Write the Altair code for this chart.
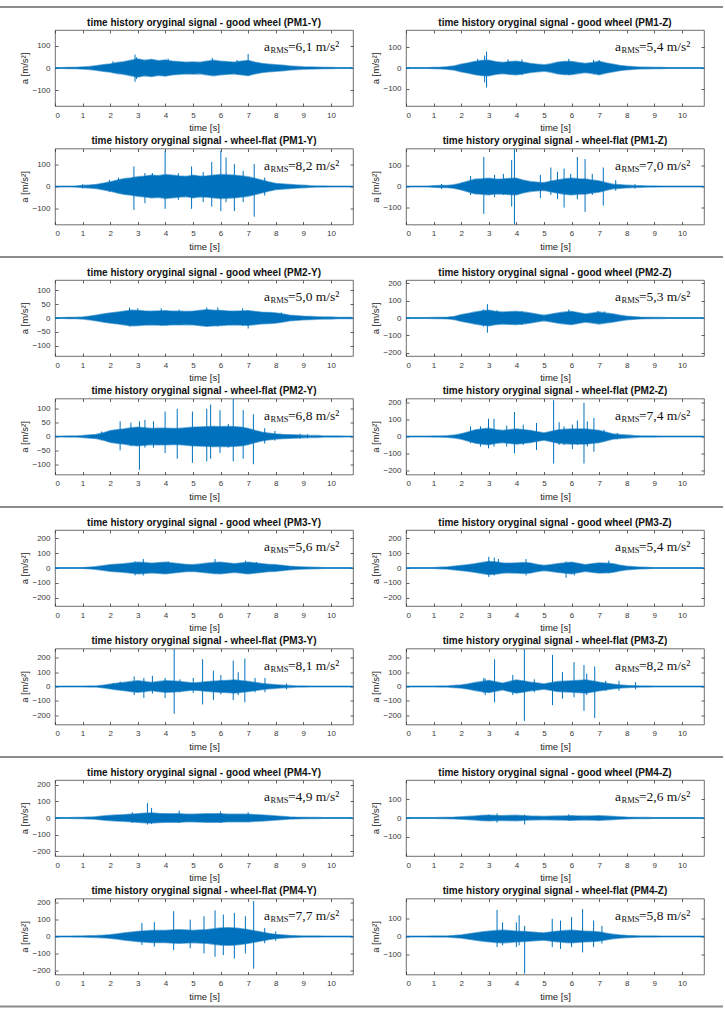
import altair as alt
import pandas as pd

BLUE = "#0072BD"
W, H = 298, 76

# time grid of the envelope readings [s] (every 0.25 s)
T = [0, 0.25, 0.5, 0.75, 1, 1.25, 1.5, 1.75, 2, 2.25, 2.5, 2.75, 3, 3.25, 3.5, 3.75,
     4, 4.25, 4.5, 4.75, 5, 5.25, 5.5, 5.75, 6, 6.25, 6.5, 6.75, 7, 7.25, 7.5, 7.75,
     8, 8.25, 8.5, 8.75, 9, 9.25, 9.5, 9.75, 10, 10.25, 10.5, 10.75]
XTICKS = [0, 1, 2, 3, 4, 5, 6, 7, 8, 9, 10]

# ---- envelopes of the dense part of each signal [m/s^2] (4 readings per second) ----
ENV_PM1Y_GOOD = [1, 1, 2, 2, 4, 6, 10, 14, 18, 24, 28, 34, 40, 34, 38, 32, 36, 30, 28, 26, 27, 25,
                 30, 34, 30, 28, 26, 30, 33, 26, 20, 17, 14, 12, 9, 7, 5, 4, 3, 2, 2, 1, 1, 1]
ENV_PM1Z_GOOD = [1, 1, 1, 1, 2, 3, 6, 10, 18, 24, 32, 36, 38, 30, 27, 30, 33, 28, 22, 18, 15, 20,
                 28, 32, 32, 26, 22, 26, 32, 24, 18, 12, 8, 6, 4, 3, 2, 2, 1, 1, 1, 1, 1, 1]
ENV_PM1Y_FLAT = [1, 1, 1, 2, 4, 6, 9, 14, 20, 28, 35, 38, 43, 46, 50, 48, 53, 50, 47, 45, 50, 46,
                 47, 50, 53, 52, 50, 47, 43, 36, 28, 20, 13, 11, 9, 7, 5, 3, 2, 2, 1, 1, 1, 1]
ENV_PM1Z_FLAT = [1, 1, 1, 1, 3, 5, 5, 8, 15, 25, 34, 36, 39, 34, 35, 38, 39, 30, 23, 20, 18, 25,
                 31, 36, 39, 36, 35, 30, 26, 18, 10, 8, 6, 4, 3, 2, 2, 1, 1, 1, 1, 1, 1, 1]
ENV_PM2Y_GOOD = [1, 1, 2, 2, 3, 6, 10, 14, 18, 21, 24, 28, 27, 25, 24, 25, 26, 24, 24, 23, 24, 27,
                 30, 28, 27, 25, 24, 25, 26, 23, 21, 20, 18, 14, 10, 8, 6, 5, 4, 3, 3, 2, 2, 2]
ENV_PM2Z_GOOD = [1, 1, 1, 1, 2, 3, 4, 9, 19, 26, 34, 40, 45, 38, 34, 36, 38, 34, 29, 22, 15, 22,
                 29, 34, 38, 30, 23, 28, 34, 28, 23, 16, 10, 7, 4, 3, 2, 2, 1, 1, 1, 1, 1, 1]
ENV_PM2Y_FLAT = [1, 1, 2, 2, 3, 5, 7, 13, 21, 24, 27, 31, 33, 31, 29, 30, 30, 29, 29, 31, 33, 34,
                 35, 36, 35, 36, 35, 33, 29, 22, 15, 12, 9, 7, 6, 5, 4, 3, 3, 2, 2, 2, 1, 1]
ENV_PM2Z_FLAT = [1, 1, 1, 1, 2, 3, 4, 8, 15, 26, 38, 44, 48, 40, 35, 40, 44, 40, 35, 28, 21, 30,
                 38, 42, 44, 44, 44, 40, 35, 25, 15, 11, 8, 5, 3, 2, 2, 1, 1, 1, 1, 1, 1, 1]
ENV_PM3Y_GOOD = [1, 1, 1, 1, 2, 5, 9, 15, 21, 25, 28, 33, 39, 36, 32, 35, 39, 33, 28, 24, 21, 26,
                 32, 36, 39, 33, 28, 33, 39, 33, 28, 24, 21, 16, 11, 8, 6, 4, 3, 2, 2, 1, 1, 1]
ENV_PM3Z_GOOD = [1, 1, 1, 1, 2, 4, 7, 11, 16, 22, 28, 36, 44, 40, 34, 32, 34, 36, 34, 24, 16, 22,
                 28, 34, 39, 30, 21, 28, 34, 32, 28, 18, 11, 8, 5, 3, 2, 2, 1, 1, 1, 1, 1, 1]
ENV_PM3Y_FLAT = [1, 1, 1, 1, 2, 3, 4, 9, 16, 22, 28, 34, 40, 34, 28, 34, 40, 38, 35, 30, 24, 28,
                 33, 37, 40, 42, 45, 40, 35, 28, 21, 16, 12, 9, 6, 4, 3, 2, 2, 1, 1, 1, 1, 1]
ENV_PM3Z_FLAT = [1, 1, 1, 1, 2, 3, 4, 7, 11, 18, 27, 34, 41, 32, 23, 34, 45, 38, 30, 24, 18, 26,
                 34, 37, 39, 42, 45, 38, 30, 23, 16, 11, 7, 5, 4, 3, 2, 2, 1, 1, 1, 1, 1, 1]
ENV_PM4Y_GOOD = [1, 1, 1, 2, 3, 5, 8, 12, 15, 18, 20, 23, 25, 28, 30, 27, 25, 26, 25, 23, 22, 24,
                 25, 26, 25, 23, 22, 23, 22, 20, 18, 15, 12, 9, 6, 4, 3, 2, 2, 1, 1, 1, 1, 1]
ENV_PM4Z_GOOD = [1, 1, 1, 1, 1, 2, 3, 4, 6, 8, 10, 13, 15, 13, 12, 13, 14, 12, 10, 9, 8, 9,
                 10, 11, 12, 11, 10, 11, 12, 10, 8, 6, 4, 3, 2, 2, 1, 1, 1, 1, 1, 1, 1, 1]
ENV_PM4Y_FLAT = [1, 1, 1, 2, 3, 4, 5, 7, 10, 15, 20, 25, 30, 33, 35, 35, 35, 38, 40, 38, 35, 38,
                 40, 45, 50, 52, 50, 46, 40, 32, 25, 18, 12, 9, 6, 4, 3, 2, 2, 1, 1, 1, 1, 1]
ENV_PM4Z_FLAT = [1, 1, 1, 1, 2, 2, 3, 5, 8, 14, 20, 25, 30, 33, 35, 33, 30, 28, 25, 22, 20, 25,
                 30, 33, 35, 32, 30, 28, 25, 18, 12, 8, 5, 4, 3, 2, 2, 1, 1, 1, 1, 1, 1, 1]

# ---- isolated peaks: (time [s], max, min) ----
SPK_PM1Y_GOOD = [(2.1, 30, -22), (2.9, 60, -62), (2.95, 48, -50), (3.5, 38, -36), (4.1, 42, -30),
                 (5.7, 45, -30), (6.6, 36, -30), (7.0, 63, -35)]
SPK_PM1Z_GOOD = [(2.6, 45, -35), (2.85, 60, -70), (2.92, 80, -95), (3.7, 42, -30), (4.2, 42, -35),
                 (5.9, 45, -35), (6.8, 40, -30), (7.0, 38, -32)]
SPK_PM1Y_FLAT = [(1.0, 10, -8), (1.97, 30, -25), (2.3, 40, -30), (2.86, 90, -105), (3.26, 60, -75),
                 (3.53, 60, -45), (3.99, 160, -100), (4.47, 60, -60), (4.95, 90, -100), (5.37, 65, -70),
                 (5.68, 110, -90), (6.01, 160, -110), (6.2, 130, -70), (6.5, 100, -110), (6.82, 70, -70),
                 (7.22, 100, -135), (7.6, 40, -40), (9.1, 6, -5)]
SPK_PM1Z_FLAT = [(1.29, 12, -12), (2.03, 20, -15), (2.34, 50, -40), (2.82, 140, -130), (3.21, 55, -50),
                 (3.53, 60, -40), (3.83, 125, -95), (3.93, 180, -180), (4.87, 55, -55), (5.25, 90, -40),
                 (5.49, 70, -60), (5.73, 85, -100), (5.97, 60, -40), (6.21, 140, -60), (6.49, 130, -120),
                 (6.75, 60, -40), (7.15, 90, -90), (7.6, 30, -20), (8.3, 12, -10)]
SPK_PM2Y_GOOD = [(2.7, 38, -30), (3.0, 35, -25), (3.85, 35, -28), (4.5, 30, -25), (5.5, 38, -28),
                 (5.9, 38, -30), (6.8, 35, -28), (7.0, 28, -38), (8.2, 20, -15)]
SPK_PM2Z_GOOD = [(2.8, 50, -50), (2.95, 80, -85), (3.3, 45, -35), (4.2, 40, -40), (5.9, 50, -35),
                 (6.95, 40, -30), (7.2, 38, -28)]
SPK_PM2Y_FLAT = [(1.69, 18, -12), (2.36, 55, -50), (2.75, 50, -35), (3.06, 55, -120), (3.26, 60, -40),
                 (3.57, 55, -40), (3.99, 90, -60), (4.43, 100, -80), (4.98, 90, -95), (5.5, 100, -90),
                 (5.64, 115, -80), (5.98, 95, -60), (6.28, 45, -40), (6.46, 135, -90), (6.82, 95, -80),
                 (7.19, 80, -100), (7.6, 30, -25), (7.97, 20, -15), (8.88, 10, -8), (9.15, 8, -6)]
SPK_PM2Z_FLAT = [(2.0, 20, -15), (2.34, 60, -40), (2.7, 60, -60), (2.99, 105, -70), (3.19, 105, -60),
                 (3.65, 65, -60), (3.93, 145, -100), (4.25, 70, -50), (4.73, 80, -80), (5.35, 215, -160),
                 (5.55, 85, -50), (5.73, 60, -50), (6.03, 70, -75), (6.21, 95, -50), (6.45, 200, -160),
                 (6.57, 90, -60), (6.81, 110, -90), (7.18, 40, -30), (7.66, 20, -15)]
SPK_PM3Y_GOOD = [(2.9, 45, -50), (3.2, 60, -50), (4.1, 45, -35), (5.8, 60, -40), (6.9, 50, -40),
                 (7.3, 40, -30), (8.2, 20, -15)]
SPK_PM3Z_GOOD = [(3.0, 75, -60), (3.2, 70, -50), (3.35, 60, -40), (4.35, 60, -50), (5.8, 45, -65),
                 (6.1, 35, -50), (7.35, 50, -35)]
SPK_PM3Y_FLAT = [(2.11, 25, -20), (2.36, 35, -25), (2.87, 70, -60), (3.22, 60, -80), (3.53, 75, -50),
                 (3.99, 60, -80), (4.32, 262, -190), (4.53, 50, -40), (5.01, 60, -45), (5.35, 190, -125),
                 (5.74, 110, -95), (6.01, 80, -55), (6.46, 180, -95), (6.64, 100, -60), (6.88, 195, -110),
                 (7.25, 60, -40), (7.61, 60, -40), (8.39, 20, -20)]
SPK_PM3Z_FLAT = [(2.3, 20, -15), (2.82, 60, -45), (2.87, 55, -60), (3.21, 190, -110), (3.87, 80, -60),
                 (4.29, 262, -240), (4.65, 50, -40), (5.31, 220, -130), (5.67, 100, -85), (6.09, 170, -75),
                 (6.45, 150, -170), (6.55, 90, -60), (6.84, 140, -220), (7.24, 40, -30), (7.72, 40, -30),
                 (8.32, 30, -20)]
SPK_PM4Y_GOOD = [(2.8, 35, -30), (3.35, 90, -40), (3.5, 60, -35), (4.5, 45, -30), (6.0, 40, -30),
                 (7.0, 35, -25)]
SPK_PM4Z_GOOD = [(3.0, 18, -15), (3.3, 25, -25), (4.3, 18, -35), (5.9, 20, -15)]
SPK_PM4Y_FLAT = [(3.15, 80, -50), (3.6, 85, -60), (4.3, 150, -80), (4.9, 100, -70), (5.4, 120, -100),
                 (5.8, 155, -120), (6.1, 130, -110), (6.5, 140, -130), (6.9, 120, -100), (7.2, 210, -190),
                 (7.6, 50, -40), (8.0, 30, -25)]
SPK_PM4Z_FLAT = [(3.3, 150, -60), (3.5, 80, -50), (4.0, 80, -60), (4.1, 120, -50), (4.3, 60, -210),
                 (5.3, 100, -60), (5.6, 90, -70), (6.0, 110, -60), (6.4, 155, -90), (6.8, 90, -60),
                 (7.1, 60, -40)]

# ---- axis limits, ticks and RMS labels ----
YLIM = {"PM1-Y good": 170, "PM1-Z good": 185, "PM1-Y flat": 170, "PM1-Z flat": 180,
        "PM2-Y good": 137, "PM2-Z good": 220, "PM2-Y flat": 137, "PM2-Z flat": 225,
        "PM3-Y good": 255, "PM3-Z good": 255, "PM3-Y flat": 265, "PM3-Z flat": 265,
        "PM4-Y good": 230, "PM4-Z good": 205, "PM4-Y flat": 225, "PM4-Z flat": 215}
TICKS_100 = [-100, 0, 100]
TICKS_50 = [-100, -50, 0, 50, 100]
TICKS_200 = [-200, -100, 0, 100, 200]
RMS = {"PM1-Y good": "6,1", "PM1-Z good": "5,4", "PM1-Y flat": "8,2", "PM1-Z flat": "7,0",
       "PM2-Y good": "5,0", "PM2-Z good": "5,3", "PM2-Y flat": "6,8", "PM2-Z flat": "7,4",
       "PM3-Y good": "5,6", "PM3-Z good": "5,4", "PM3-Y flat": "8,1", "PM3-Z flat": "8,2",
       "PM4-Y good": "4,9", "PM4-Z good": "2,6", "PM4-Y flat": "7,7", "PM4-Z flat": "5,8"}

SANS = "Liberation Sans"
SERIF = "Liberation Serif"
AX_COL = "#3a3a3a"
SEP_COL = "#8c8c8c"


def panel(pm, axis_name, kind, ymax, yticks, env, spikes, rms, left, sep_top=False, sep_bottom=False):
    label = "good wheel" if kind == "good" else "wheel-flat"
    title = f"time history oryginal signal - {label} ({pm}-{axis_name})"
    env_df = pd.DataFrame({"t": T, "hi": env, "lo": [-v for v in env]})
    spk_df = pd.DataFrame({"t": [s[0] for s in spikes], "hi": [s[1] for s in spikes],
                           "lo": [s[2] for s in spikes]})
    one = pd.DataFrame({"k": [0]})
    xs = alt.Scale(domain=[0, 10.8], nice=False, zero=False)
    ys = alt.Scale(domain=[-ymax, ymax], nice=False)
    common = dict(domain=False, grid=False, tickColor=AX_COL, tickSize=3, offset=-3, tickWidth=0.8)
    xaxis = alt.Axis(values=XTICKS, format="d", title="time [s]", labelFont=SANS, titleFont=SANS,
                     labelFontSize=8, titleFontSize=9.5, labelColor=AX_COL, titleColor="#222",
                     titleFontWeight="normal", labelPadding=5, titlePadding=3.5, **common)
    yaxis = alt.Axis(values=yticks, format="d", title="a [m/s²]", labelFont=SANS, titleFont=SANS,
                     labelFontSize=8, titleFontSize=9.5, labelColor=AX_COL, titleColor="#222",
                     titleFontWeight="normal", labelPadding=5, titlePadding=2.5, **common)
    xtop = alt.Axis(values=XTICKS, orient="top", labels=False, title=None, **common)
    yright = alt.Axis(values=yticks, orient="right", labels=False, title=None, **common)

    area = alt.Chart(env_df).mark_area(color=BLUE, opacity=1, clip=True, stroke=BLUE,
                                       strokeOpacity=0.55, strokeWidth=1.6).encode(
        x=alt.X("t:Q", scale=xs, axis=xaxis),
        y=alt.Y("lo:Q", scale=ys, axis=yaxis),
        y2="hi:Q",
    )
    spk = alt.Chart(spk_df).mark_rule(color=BLUE, strokeWidth=1, clip=True).encode(
        x=alt.X("t:Q", axis=xtop),
        y=alt.Y("lo:Q", axis=yright),
        y2="hi:Q",
    )
    zero = alt.Chart(one).mark_rule(color=BLUE, strokeWidth=1).encode(
        x=alt.value(0), x2=alt.value(W), y=alt.YDatum(0, axis=None)
    )
    t_title = alt.Chart(one).mark_text(font=SANS, fontSize=10, fontWeight="bold", align="center",
                                       baseline="bottom", color="#111").encode(
        x=alt.value(W / 2), y=alt.value(-2.5), text=alt.value(title))
    t_a = alt.Chart(one).mark_text(font=SERIF, fontSize=13.5, align="left", baseline="alphabetic",
                                   color="#111").encode(x=alt.value(209), y=alt.value(21), text=alt.value("a"))
    t_sub = alt.Chart(one).mark_text(font=SERIF, fontSize=8.5, align="left", baseline="alphabetic",
                                     color="#111").encode(x=alt.value(215.5), y=alt.value(23), text=alt.value("RMS"))
    t_val = alt.Chart(one).mark_text(font=SERIF, fontSize=13.5, align="left", baseline="alphabetic",
                                     color="#111").encode(x=alt.value(233), y=alt.value(21),
                                                          text=alt.value(f"={rms} m/s²"))
    layers = [area, spk, zero, t_title, t_a, t_sub, t_val]
    if left:
        # frame line on top of the group (invisible for second rows, keeps the rows aligned)
        layers.append(alt.Chart(one).mark_rule(color=SEP_COL, strokeWidth=2,
                                               opacity=1 if sep_top else 0).encode(
            x=alt.value(-57), x2=alt.value(668), y=alt.value(-23) if sep_top else alt.value(0)))
    if sep_bottom:
        layers.append(alt.Chart(one).mark_rule(color=SEP_COL, strokeWidth=2).encode(
            x=alt.value(-57), x2=alt.value(668), y=alt.value(H + 32)))
    return alt.layer(*layers).resolve_axis(x="independent", y="independent").properties(
        width=W, height=H)


ENV = {"PM1": (ENV_PM1Y_GOOD, ENV_PM1Z_GOOD, ENV_PM1Y_FLAT, ENV_PM1Z_FLAT),
       "PM2": (ENV_PM2Y_GOOD, ENV_PM2Z_GOOD, ENV_PM2Y_FLAT, ENV_PM2Z_FLAT),
       "PM3": (ENV_PM3Y_GOOD, ENV_PM3Z_GOOD, ENV_PM3Y_FLAT, ENV_PM3Z_FLAT),
       "PM4": (ENV_PM4Y_GOOD, ENV_PM4Z_GOOD, ENV_PM4Y_FLAT, ENV_PM4Z_FLAT)}
SPK = {"PM1": (SPK_PM1Y_GOOD, SPK_PM1Z_GOOD, SPK_PM1Y_FLAT, SPK_PM1Z_FLAT),
       "PM2": (SPK_PM2Y_GOOD, SPK_PM2Z_GOOD, SPK_PM2Y_FLAT, SPK_PM2Z_FLAT),
       "PM3": (SPK_PM3Y_GOOD, SPK_PM3Z_GOOD, SPK_PM3Y_FLAT, SPK_PM3Z_FLAT),
       "PM4": (SPK_PM4Y_GOOD, SPK_PM4Z_GOOD, SPK_PM4Y_FLAT, SPK_PM4Z_FLAT)}
TICKS = {"PM1-Y good": TICKS_100, "PM1-Z good": TICKS_100, "PM1-Y flat": TICKS_100, "PM1-Z flat": TICKS_100,
         "PM2-Y good": TICKS_50, "PM2-Z good": TICKS_200, "PM2-Y flat": TICKS_50, "PM2-Z flat": TICKS_200,
         "PM3-Y good": TICKS_200, "PM3-Z good": TICKS_200, "PM3-Y flat": TICKS_200, "PM3-Z flat": TICKS_200,
         "PM4-Y good": TICKS_200, "PM4-Z good": TICKS_100, "PM4-Y flat": TICKS_200, "PM4-Z flat": TICKS_100}

groups = []
for gi, pm in enumerate(["PM1", "PM2", "PM3", "PM4"]):
    envs, spks = ENV[pm], SPK[pm]
    cells = []
    for ci, (ax, kind) in enumerate([("Y", "good"), ("Z", "good"), ("Y", "flat"), ("Z", "flat")]):
        key = f"{pm}-{ax} {kind}"
        cells.append(panel(pm, ax, kind, YLIM[key], TICKS[key], envs[ci], spks[ci], RMS[key],
                           left=(ci % 2 == 0), sep_top=(ci == 0), sep_bottom=(gi == 3 and ci == 2)))
    row1 = alt.hconcat(cells[0], cells[1], spacing=53, bounds="flush")
    row2 = alt.hconcat(cells[2], cells[3], spacing=53, bounds="flush")
    groups.append(alt.vconcat(row1, row2, spacing=2.5))

chart = alt.vconcat(*groups, spacing=4).properties(
    padding={"left": -4, "top": 5, "right": 0, "bottom": 4},
    background="white",
).configure_view(stroke="#4a4a4a", strokeWidth=0.8)

chart.save("out.html", embed_options={"renderer": "svg", "actions": False})
